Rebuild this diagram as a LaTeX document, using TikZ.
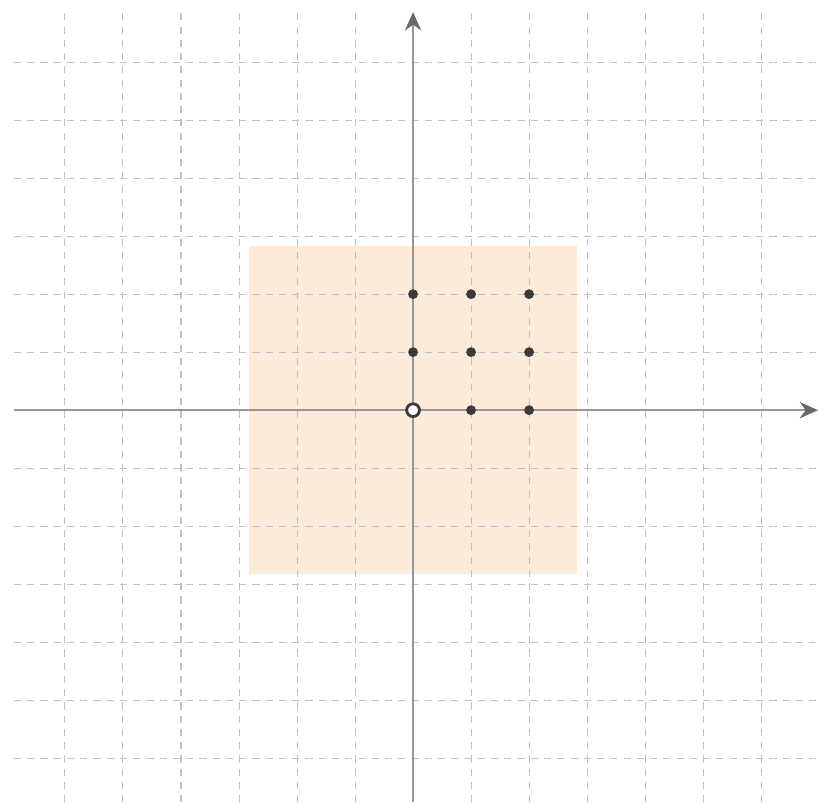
\documentclass[tikz,border=0pt]{standalone}
\usepackage{tikz}
\usepackage{xcolor}
\definecolor{gridgray}{RGB}{192,192,192}
\definecolor{axisgray}{RGB}{150,150,150}
\definecolor{tipgray}{RGB}{105,105,105}
\definecolor{region}{RGB}{253,235,217}
\definecolor{point}{RGB}{62,58,55}
\usetikzlibrary{arrows.meta}

\begin{document}
\begin{tikzpicture}[scale=1]
		\useasboundingbox (-7.12,-6.76) rectangle (6.98,7.07);

		%shaded square
		\fill[region] (-2.83,-2.83) rectangle (2.83,2.83);

		%dashed grid
		\foreach \x in {-6,...,6}
		\draw[gridgray, line width=0.5pt, dash pattern=on 3.5pt off 3pt] (\x,-6.76) -- (\x,6.86);
		\foreach \y in {-6,...,6}
		\draw[gridgray, line width=0.5pt, dash pattern=on 3.5pt off 3pt] (-6.88,\y) -- (6.98,\y);

		%draw axes
		\draw[axisgray, line width=1pt, -{Stealth[length=9pt, width=8pt, color=tipgray]}] (-6.88,0) -- (6.98,0);
		\draw[axisgray, line width=1pt, -{Stealth[length=9pt, width=8pt, color=tipgray]}] (0,-6.76) -- (0,6.86);

		%draw lattice points
		\foreach \p in {(0,1),(0,2),(1,0),(1,1),(1,2),(2,0),(2,1),(2,2)}
		\fill[point] \p circle (0.085);

		%origin
		\filldraw[draw=point, fill=white, line width=1.4pt] (0,0) circle (0.11);
\end{tikzpicture}
\end{document}
